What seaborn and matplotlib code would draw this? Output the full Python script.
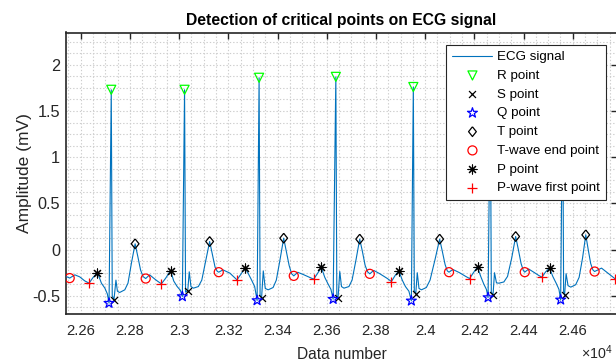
import matplotlib
matplotlib.use("Agg")
import matplotlib.pyplot as plt
import numpy as np
import pandas as pd
import seaborn as sns

# ---- detected critical points (sample index, amplitude in mV) ----
r_x = [22724, 23022, 23325, 23637, 23952, 24265, 24559]
r_y = [1.73, 1.73, 1.86, 1.87, 1.76, 1.85, 1.80]

s_x = [22735, 23035, 23335, 23646, 23962, 24276, 24567]
s_y = [-0.543, -0.443, -0.525, -0.525, -0.475, -0.49, -0.49]

q_x = [22715, 23013, 23317, 23626, 23944, 24256, 24551]
q_y = [-0.579, -0.507, -0.55, -0.536, -0.554, -0.518, -0.543]

t_x = [22821, 23124, 23425, 23734, 24059, 24368, 24653]
t_y = [0.063, 0.088, 0.124, 0.114, 0.114, 0.142, 0.16]

tend_x = [22555, 22864, 23161, 23466, 23775, 24097, 24405, 24689]
tend_y = [-0.308, -0.313, -0.244, -0.284, -0.262, -0.244, -0.244, -0.237]

p_x = [22668, 22965, 23267, 23578, 23893, 24213, 24506]
p_y = [-0.248, -0.226, -0.2, -0.193, -0.229, -0.19, -0.2]

pfirst_x = [22634, 22928, 23235, 23547, 23863, 24181, 24475, 24771]
pfirst_y = [-0.363, -0.37, -0.327, -0.32, -0.345, -0.313, -0.298, -0.313]

# ---- remaining ECG samples between the critical points ----
wave_x = [
    22540, 22576, 22596, 22616,
    22649, 22684, 22698, 22708, 22728, 22743, 22749, 22758, 22779, 22792, 22806,
    22832, 22843, 22853, 22880, 22901, 22914,
    22945, 22978, 22992, 23005, 23026, 23041, 23048, 23058, 23078, 23092, 23108,
    23135, 23146, 23155, 23178, 23206, 23224,
    23250, 23280, 23294, 23307, 23329, 23342, 23350, 23362, 23382, 23395, 23410,
    23436, 23447, 23457, 23482, 23505, 23530,
    23562, 23592, 23605, 23617, 23641, 23653, 23660, 23670, 23690, 23703, 23719,
    23745, 23756, 23766, 23791, 23815, 23845,
    23878, 23907, 23920, 23934, 23956, 23968, 23975, 23985, 24005, 24020, 24040,
    24070, 24081, 24090, 24113, 24140, 24165,
    24196, 24226, 24238, 24249, 24269, 24282, 24290, 24300, 24320, 24335, 24352,
    24379, 24390, 24399, 24421, 24445, 24462,
    24490, 24519, 24532, 24544, 24563, 24573, 24581, 24592, 24612, 24626, 24640,
    24663, 24673, 24682, 24717, 24755, 24785,
]
wave_y = [
    -0.29, -0.273, -0.295, -0.338,
    -0.305, -0.363, -0.417, -0.478, -0.50, -0.33, -0.45, -0.464, -0.435, -0.363, -0.146,
    -0.075, -0.219, -0.291, -0.273, -0.319, -0.345,
    -0.31, -0.34, -0.40, -0.44, -0.46, -0.24, -0.40, -0.417, -0.40, -0.33, -0.12,
    -0.05, -0.19, -0.235, -0.219, -0.254, -0.30,
    -0.27, -0.254, -0.327, -0.40, -0.50, -0.23, -0.42, -0.435, -0.41, -0.33, -0.11,
    -0.02, -0.17, -0.26, -0.245, -0.27, -0.30,
    -0.26, -0.30, -0.37, -0.43, -0.50, -0.237, -0.40, -0.417, -0.40, -0.33, -0.11,
    -0.02, -0.17, -0.24, -0.225, -0.26, -0.31,
    -0.28, -0.33, -0.40, -0.45, -0.45, -0.25, -0.42, -0.435, -0.41, -0.33, -0.11,
    -0.02, -0.16, -0.23, -0.215, -0.25, -0.29,
    -0.25, -0.29, -0.37, -0.43, -0.46, -0.25, -0.36, -0.363, -0.35, -0.29, -0.09,
    0.0, -0.15, -0.225, -0.21, -0.25, -0.28,
    -0.24, -0.29, -0.36, -0.43, -0.46, -0.26, -0.39, -0.406, -0.38, -0.30, -0.09,
    0.0, -0.15, -0.22, -0.20, -0.28, -0.32,
]

xtick_vals = [22600, 22800, 23000, 23200, 23400, 23600, 23800, 24000, 24200, 24400, 24600]
xtick_labels = ["2.26", "2.28", "2.3", "2.32", "2.34", "2.36", "2.38", "2.4", "2.42", "2.44", "2.46"]
ytick_vals = [-0.5, 0, 0.5, 1, 1.5, 2]
ytick_labels = ["-0.5", "0", "0.5", "1", "1.5", "2"]

# full trace = samples plus the marked points, in sample order
ecg = pd.DataFrame({
    "n": wave_x + r_x + s_x + q_x + t_x + tend_x + p_x + pfirst_x,
    "mV": wave_y + r_y + s_y + q_y + t_y + tend_y + p_y + pfirst_y,
}).sort_values("n").reset_index(drop=True)

sns.set_theme(style="white")
plt.rcParams["font.family"] = ["Liberation Sans", "DejaVu Sans"]
plt.rcParams["mathtext.fontset"] = "custom"
plt.rcParams["mathtext.rm"] = "Liberation Sans"
plt.rcParams["mathtext.it"] = "Liberation Sans"

axis_col = (0.15, 0.15, 0.15)

fig = plt.figure(figsize=(6.16, 3.63), dpi=100)
ax = fig.add_axes([66 / 616, 48.7 / 363, 551 / 616, 281.8 / 363])

sns.lineplot(data=ecg, x="n", y="mV", estimator=None, sort=False, ax=ax,
             color="#0072BD", linewidth=0.8, label="ECG signal", zorder=3)

mew = 0.9
sns.scatterplot(x=r_x, y=r_y, ax=ax, marker="v", s=6.5 ** 2, facecolor="none",
                edgecolor=(0, 1, 0), linewidth=mew, label="R point", zorder=4)
sns.scatterplot(x=s_x, y=s_y, ax=ax, marker="x", s=5 ** 2, color="black",
                linewidth=mew, label="S point", zorder=4)
sns.scatterplot(x=q_x, y=q_y, ax=ax, marker="*", s=7.5 ** 2, facecolor="none",
                edgecolor=(0, 0, 1), linewidth=mew, label="Q point", zorder=4)
diamond = [(0, 1), (0.8, 0), (0, -1), (-0.8, 0), (0, 1)]
sns.scatterplot(x=t_x, y=t_y, ax=ax, marker=diamond, s=7 ** 2, facecolor="none",
                edgecolor="black", linewidth=mew, label="T point", zorder=4)
sns.scatterplot(x=tend_x, y=tend_y, ax=ax, marker="o", s=6.5 ** 2, facecolor="none",
                edgecolor=(1, 0, 0), linewidth=mew, label="T-wave end point", zorder=4)
sns.scatterplot(x=p_x, y=p_y, ax=ax, marker=(8, 2, 0), s=6.5 ** 2, color="black",
                linewidth=0.8, label="P point", zorder=4)
sns.scatterplot(x=pfirst_x, y=pfirst_y, ax=ax, marker="+", s=6.5 ** 2, color=(1, 0, 0),
                linewidth=mew, label="P-wave first point", zorder=4, clip_on=False)

ax.set_xlim(22540, 24780)
ax.set_ylim(-0.70, 2.35)

ax.set_xticks(xtick_vals)
ax.set_xticklabels(xtick_labels)
ax.set_yticks(ytick_vals)
ax.set_yticklabels(ytick_labels)
ax.xaxis.set_minor_locator(matplotlib.ticker.MultipleLocator(50))
ax.yaxis.set_minor_locator(matplotlib.ticker.MultipleLocator(0.125))

ax.tick_params(axis="both", which="major", direction="in", length=4.3, width=1.0,
               color=axis_col, top=True, right=True)
ax.tick_params(axis="both", which="minor", length=0, top=True, right=True)
ax.tick_params(axis="x", labelsize=10.6, labelcolor=axis_col, pad=7)
ax.tick_params(axis="y", labelsize=11.7, labelcolor=axis_col, pad=4.3)

grid_style = dict(color="#cdcdcd", linestyle=(0, (1.2, 1.8)), linewidth=0.8)
ax.grid(True, which="major", **grid_style)
ax.grid(True, which="minor", **grid_style)
ax.set_axisbelow(True)

for sp in ax.spines.values():
    sp.set_visible(True)
    sp.set_color(axis_col)
    sp.set_linewidth(1.2)

ax.set_title("Detection of critical points on ECG signal", fontsize=11.3,
             fontweight="bold", color="black", pad=5.5)
ax.set_xlabel("Data number", fontsize=11.2, color=axis_col)
ax.set_ylabel("Amplitude (mV)", fontsize=12.5, color=axis_col)
ax.xaxis.set_label_coords(0.5, -0.116)
ax.yaxis.set_label_coords(-0.0622, 0.5)

# axis multiplier for the sample index
fig.text(613 / 616, 1.5 / 363, r"$\times10^{4}$", fontsize=10.3, color=axis_col,
         ha="right", va="bottom")

leg = ax.legend(loc="upper right", bbox_to_anchor=(0.98, 0.956), borderaxespad=0,
                fontsize=9.6, frameon=True, fancybox=False, framealpha=1,
                edgecolor=axis_col, handlelength=3.0, handletextpad=0.35,
                labelspacing=0.48, borderpad=0.45, scatterpoints=1)
leg.get_frame().set_linewidth(0.8)
for txt in leg.get_texts():
    txt.set_color("black")

fig.savefig("out.png", dpi=100)
